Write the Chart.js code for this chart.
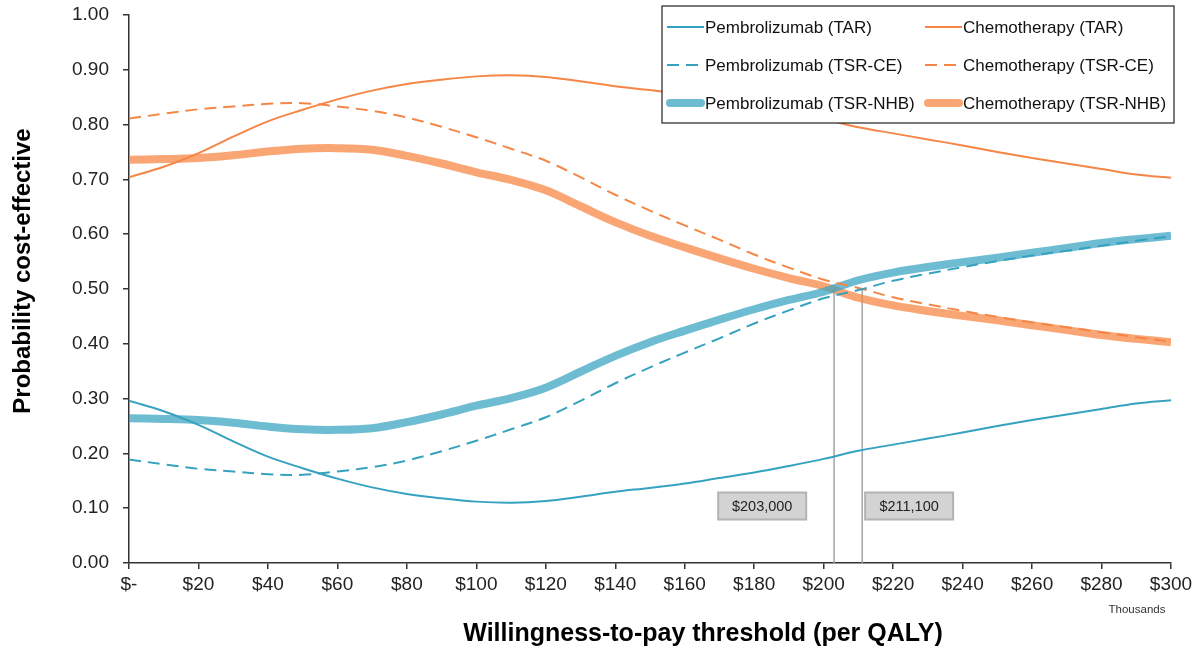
<!DOCTYPE html>
<html>
<head>
<meta charset="utf-8">
<script src="https://cdn.jsdelivr.net/npm/chart.js@4.4.1/dist/chart.umd.min.js"></script>
<style>
  html, body { margin: 0; padding: 0; background: #fff; }
  canvas { display: block; }
</style>
</head>
<body>
<canvas id="ceac" width="1199" height="652"></canvas>
<script>
// Willingness-to-pay threshold, thousands of dollars per QALY
const wtp = [0, 10, 20, 30, 40, 50, 60, 70, 80, 90, 100, 110, 120, 130, 140, 150,
             160, 170, 180, 190, 200, 210, 220, 230, 240, 250, 260, 270, 280, 290, 300];

// Probability cost-effective by approach
const pembroTAR = [0.296, 0.277, 0.252, 0.222, 0.194, 0.173, 0.154, 0.138, 0.126, 0.118, 0.112,
                   0.110, 0.113, 0.121, 0.130, 0.137, 0.145, 0.155, 0.165, 0.177, 0.190,
                   0.205, 0.216, 0.227, 0.238, 0.250, 0.261, 0.271, 0.281, 0.291, 0.297];
const chemoTAR  = [0.704, 0.723, 0.748, 0.778, 0.806, 0.827, 0.846, 0.862, 0.874, 0.882, 0.888,
                   0.890, 0.887, 0.879, 0.870, 0.863, 0.855, 0.845, 0.835, 0.823, 0.810,
                   0.795, 0.784, 0.773, 0.762, 0.750, 0.739, 0.729, 0.719, 0.709, 0.703];
const pembroCE  = [0.189, 0.180, 0.172, 0.167, 0.162, 0.161, 0.167, 0.175, 0.187, 0.204, 0.223,
                   0.244, 0.266, 0.296, 0.328, 0.357, 0.384, 0.410, 0.437, 0.461, 0.483,
                   0.498, 0.515, 0.528, 0.540, 0.551, 0.561, 0.570, 0.579, 0.588, 0.596];
const chemoCE   = [0.811, 0.820, 0.828, 0.833, 0.838, 0.839, 0.833, 0.825, 0.813, 0.796, 0.777,
                   0.756, 0.734, 0.704, 0.672, 0.643, 0.616, 0.590, 0.563, 0.539, 0.517,
                   0.502, 0.485, 0.472, 0.460, 0.449, 0.439, 0.430, 0.421, 0.412, 0.404];
const pembroNHB = [0.264, 0.263, 0.261, 0.256, 0.249, 0.244, 0.243, 0.246, 0.257, 0.271, 0.287,
                   0.301, 0.320, 0.349, 0.378, 0.403, 0.424, 0.444, 0.463, 0.480, 0.495,
                   0.516, 0.530, 0.540, 0.549, 0.557, 0.566, 0.575, 0.584, 0.591, 0.597];
const chemoNHB  = [0.736, 0.737, 0.739, 0.744, 0.751, 0.756, 0.757, 0.754, 0.743, 0.729, 0.713,
                   0.699, 0.680, 0.651, 0.622, 0.597, 0.576, 0.556, 0.537, 0.520, 0.505,
                   0.484, 0.470, 0.460, 0.451, 0.443, 0.434, 0.425, 0.416, 0.409, 0.403];

// Thresholds where the curves cross (thousands)
const thresholdNHB = 203.0;
const thresholdCE = 211.1;

const FONT = '"Liberation Sans", Arial, Helvetica, sans-serif';
const BLUE = '#35a2c0';
const ORANGE = '#f58646';
const BLUE_WIDE = 'rgba(60,165,195,0.75)';
const ORANGE_WIDE = 'rgba(247,135,70,0.75)';

const toXY = arr => arr.map((v, i) => ({ x: wtp[i], y: v }));
const dropLine = t => [{ x: t, y: 0 }, { x: t, y: 0.5 }];
const money = t => '$' + Math.round(t * 1000).toLocaleString('en-US');

const datasets = [
  { label: 'Pembrolizumab (TAR)', data: toXY(pembroTAR), borderColor: BLUE, borderWidth: 2, order: 1 },
  { label: 'Chemotherapy (TAR)', data: toXY(chemoTAR), borderColor: ORANGE, borderWidth: 2, order: 1 },
  { label: 'Pembrolizumab (TSR-CE)', data: toXY(pembroCE), borderColor: BLUE, borderWidth: 2, borderDash: [12, 7], order: 1 },
  { label: 'Chemotherapy (TSR-CE)', data: toXY(chemoCE), borderColor: ORANGE, borderWidth: 2, borderDash: [12, 7], order: 1 },
  { label: 'Pembrolizumab (TSR-NHB)', data: toXY(pembroNHB), borderColor: BLUE_WIDE, borderWidth: 8, order: 2 },
  { label: 'Chemotherapy (TSR-NHB)', data: toXY(chemoNHB), borderColor: ORANGE_WIDE, borderWidth: 8, order: 2 },
  { label: '', data: dropLine(thresholdNHB), borderColor: '#a3a3a3', borderWidth: 1.5, tension: 0, order: 3, marker: true },
  { label: '', data: dropLine(thresholdCE), borderColor: '#a3a3a3', borderWidth: 1.5, tension: 0, order: 3, marker: true }
];

// Titles, unit note, threshold boxes and legend drawn on top of the plot
const decorations = {
  id: 'decorations',
  afterDraw(chart) {
    const ctx = chart.ctx;
    const xs = chart.scales.x, ys = chart.scales.y;
    ctx.save();

    // axis titles
    ctx.fillStyle = '#000';
    ctx.font = 'bold 25px ' + FONT;
    ctx.textAlign = 'center';
    ctx.textBaseline = 'middle';
    ctx.fillText('Willingness-to-pay threshold (per QALY)', 703, 634);
    ctx.save();
    ctx.translate(23, 271);
    ctx.rotate(-Math.PI / 2);
    ctx.font = 'bold 24px ' + FONT;
    ctx.fillText('Probability cost-effective', 0, 0);
    ctx.restore();

    // unit note under the last tick
    ctx.font = '11.5px ' + FONT;
    ctx.fillStyle = '#333';
    ctx.fillText('Thousands', 1137, 610);

    // threshold value boxes
    const boxes = [
      { t: thresholdNHB, cx: 182.3 },
      { t: thresholdCE, cx: 224.6 }
    ];
    boxes.forEach(b => {
      const cx = xs.getPixelForValue(b.cx);
      const cy = ys.getPixelForValue(0.104);
      const w = 88, h = 27;
      ctx.fillStyle = '#d3d3d3';
      ctx.strokeStyle = '#b3b3b3';
      ctx.lineWidth = 2;
      ctx.fillRect(cx - w / 2, cy - h / 2, w, h);
      ctx.strokeRect(cx - w / 2, cy - h / 2, w, h);
      ctx.fillStyle = '#222';
      ctx.font = '14.5px ' + FONT;
      ctx.textAlign = 'center';
      ctx.fillText(money(b.t), cx, cy + 1);
    });

    // legend
    const L = 662, T = 6, R = 1174, B = 123;
    ctx.fillStyle = '#fff';
    ctx.fillRect(L, T, R - L, B - T);
    ctx.strokeStyle = '#222';
    ctx.lineWidth = 1.2;
    ctx.strokeRect(L, T, R - L, B - T);
    const rowsY = [27, 65, 103];
    const cols = [{ x0: 667, x1: 704, tx: 705 }, { x0: 925, x1: 962, tx: 963 }];
    ctx.font = '17px ' + FONT;
    ctx.textAlign = 'left';
    ctx.textBaseline = 'middle';
    chart.data.datasets.forEach((ds, i) => {
      if (ds.marker) return;
      const c = cols[i % 2], y = rowsY[Math.floor(i / 2)];
      ctx.save();
      ctx.strokeStyle = ds.borderColor;
      ctx.lineWidth = ds.borderWidth;
      ctx.lineCap = ds.borderWidth > 4 ? 'round' : 'butt';
      ctx.setLineDash(ds.borderDash || []);
      ctx.beginPath();
      ctx.moveTo(c.x0 + (ds.borderWidth > 4 ? 3 : 0), y);
      ctx.lineTo(c.x1 - (ds.borderWidth > 4 ? 3 : 0), y);
      ctx.stroke();
      ctx.restore();
      ctx.fillStyle = '#111';
      ctx.fillText(ds.label, c.tx, y + 1);
    });

    ctx.restore();
  }
};

new Chart(document.getElementById('ceac'), {
  type: 'line',
  data: { datasets },
  options: {
    responsive: false,
    animation: false,
    devicePixelRatio: 1,
    layout: { padding: { top: 15, right: 28, left: 0, bottom: 0 } },
    elements: {
      point: { radius: 0, hoverRadius: 0 },
      line: { tension: 0.35, fill: false, borderCapStyle: 'butt' }
    },
    plugins: { legend: { display: false }, tooltip: { enabled: false } },
    scales: {
      x: {
        type: 'linear', min: 0, max: 300,
        ticks: {
          stepSize: 20, color: '#222', padding: 4,
          font: { family: FONT, size: 19 },
          callback: v => v === 0 ? '$-' : '$' + v
        },
        grid: { drawOnChartArea: false, drawTicks: true, tickLength: 6, color: '#333', lineWidth: 1.5 },
        border: { display: true, color: '#333', width: 1.5 },
        afterFit: s => { s.height = 89; s.paddingLeft = 0; s.paddingRight = 0; }
      },
      y: {
        min: 0, max: 1,
        ticks: {
          stepSize: 0.1, color: '#222', padding: 14,
          font: { family: FONT, size: 19 },
          callback: v => v.toFixed(2)
        },
        grid: { drawOnChartArea: false, drawTicks: true, tickLength: 6, color: '#333', lineWidth: 1.5 },
        border: { display: true, color: '#333', width: 1.5 },
        afterFit: s => { s.width = 129; s.paddingTop = 0; s.paddingBottom = 0; }
      }
    }
  },
  plugins: [decorations]
});
</script>
</body>
</html>
